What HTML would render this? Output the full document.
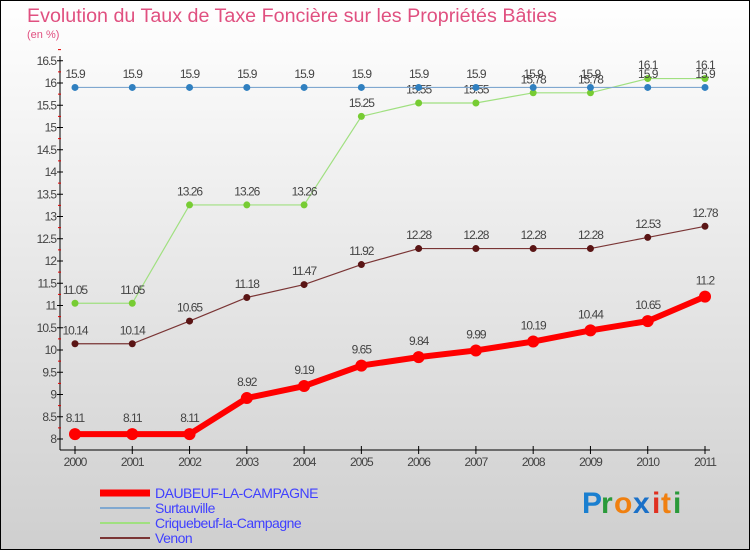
<!DOCTYPE html>
<html><head><meta charset="utf-8"><style>
html,body{margin:0;padding:0}
body{width:750px;height:550px;overflow:hidden;font-family:"Liberation Sans",sans-serif}
</style></head><body>
<svg id="chart" width="750" height="550" xmlns="http://www.w3.org/2000/svg" style="display:block">
<defs><linearGradient id="bg" x1="0" y1="0" x2="0" y2="1"><stop offset="0" stop-color="#ffffff"/><stop offset="1" stop-color="#cfcfcf"/></linearGradient></defs>
<rect x="0.5" y="0.5" width="749" height="549" fill="url(#bg)" stroke="#000"/>
<text x="27" y="22" font-size="19.7" fill="#e05080">Evolution du Taux de Taxe Foncière sur les Propriétés Bâties</text>
<text x="27" y="38" font-size="11" fill="#e05080">(en %)</text>
<g id="axes"></g><g id="series"></g><g id="legend"></g>
<g font-size="30" font-family="Liberation Sans, sans-serif" font-weight="bold">
<text x="582" y="513" fill="#1a7fd0">P</text><text x="601" y="513" fill="#2a9a3a">r</text><text x="614" y="513" fill="#f08010">o</text><text x="633" y="513" fill="#1a70c8">x</text><text x="652" y="513" fill="#e03020">i</text><text x="661" y="513" fill="#f08010">t</text><text x="673" y="513" fill="#2a9a3a">i</text>
</g>
</svg>
<script>
const years=[2000,2001,2002,2003,2004,2005,2006,2007,2008,2009,2010,2011];
const daubeuf=[8.11,8.11,8.11,8.92,9.19,9.65,9.84,9.99,10.19,10.44,10.65,11.2];
const surtauville=[15.9,15.9,15.9,15.9,15.9,15.9,15.9,15.9,15.9,15.9,15.9,15.9];
const criquebeuf=[11.05,11.05,13.26,13.26,13.26,15.25,15.55,15.55,15.78,15.78,16.1,16.1];
const venon=[10.14,10.14,10.65,11.18,11.47,11.92,12.28,12.28,12.28,12.28,12.53,12.78];
const yTicks=[8,8.5,9,9.5,10,10.5,11,11.5,12,12.5,13,13.5,14,14.5,15,15.5,16,16.5];
const NS="http://www.w3.org/2000/svg";
const X=i=>75+i*(705-75)/11;
const Y=v=>439-(v-8)*44.5;
function mk(p,t,a){const e=document.createElementNS(NS,t);for(const k in a)e.setAttribute(k,a[k]);p.appendChild(e);return e;}
const axes=document.getElementById('axes');
mk(axes,'line',{x1:60,y1:56,x2:60,y2:450,stroke:'#000'});
mk(axes,'line',{x1:60,y1:450,x2:710,y2:450,stroke:'#000'});
yTicks.forEach(v=>{
  mk(axes,'line',{x1:57,y1:Y(v),x2:63,y2:Y(v),stroke:'#000'});
  mk(axes,'line',{x1:58,y1:Y(v+0.25),x2:61,y2:Y(v+0.25),stroke:'#e00000'});
  const t=mk(axes,'text',{x:56,y:Y(v)+4,'text-anchor':'end','font-size':12,fill:'#444','letter-spacing':'-1'});
  
  
  t.textContent=v;
});
years.forEach((yr,i)=>{
  mk(axes,'line',{x1:X(i),y1:446,x2:X(i),y2:454,stroke:'#000'});
  const t=mk(axes,'text',{x:X(i),y:466,'text-anchor':'middle','font-size':12,fill:'#444','letter-spacing':'-1'});
  
  
  t.textContent=yr;
});
const ser=document.getElementById('series');
function draw(name,vals,color,w,r,dot){
  const g=mk(ser,'g',{});
  
  
  mk(g,'polyline',{points:vals.map((v,i)=>X(i)+','+Y(v)).join(' '),fill:'none',stroke:color,'stroke-width':w});
  vals.forEach((v,i)=>{
    const c=mk(g,'circle',{cx:X(i),cy:Y(v),r:r,fill:dot});
    
    
    const t=mk(g,'text',{x:X(i),y:Y(v)-(r+6),'text-anchor':'middle','font-size':12,fill:'#444','letter-spacing':'-1'});
    
    
    t.textContent=v;
  });
}
draw('series-venon',venon,'#7a3535',1.2,3.5,'#5a1515');
draw('series-criquebeuf',criquebeuf,'#a0e080',1.2,3.5,'#77cc33');
draw('series-surtauville',surtauville,'#80a8d0',1.2,3.5,'#3080c0');
draw('series-daubeuf',daubeuf,'#ff0000',6,6,'#ff0000');
const leg=document.getElementById('legend');
[['DAUBEUF-LA-CAMPAGNE','#ff0000',7],['Surtauville','#80a8d0',2],['Criquebeuf-la-Campagne','#a0e080',2],['Venon','#7a3535',2]].forEach((s,i)=>{
  const g=mk(leg,'g',{});
  
  
  const y=493+i*15;
  mk(g,'line',{x1:100,y1:y,x2:150,y2:y,stroke:s[1],'stroke-width':s[2]});
  const t=mk(g,'text',{x:155,y:y+5,'font-size':14,fill:'#4040ff','letter-spacing':'-0.5'});
  t.textContent=s[0];
});
</script>
</body></html>
